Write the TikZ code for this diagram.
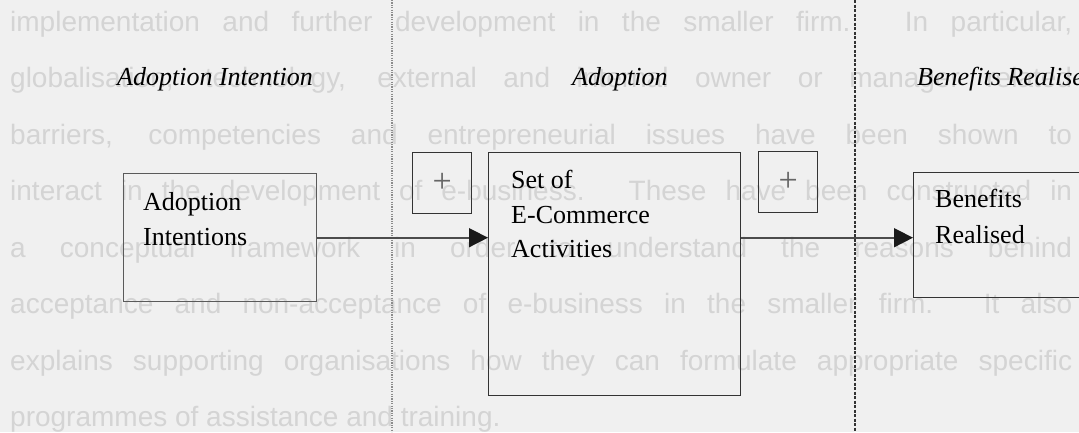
\documentclass[tikz,border=0pt]{standalone}
\usepackage{fontspec}
\setmainfont{Liberation Serif}
\newfontfamily\bgsans{Liberation Sans}
\usetikzlibrary{arrows.meta}
\definecolor{paper}{HTML}{F0F0F0}
\definecolor{ghost}{HTML}{D4D4D4}
\definecolor{ink}{HTML}{333333}
\definecolor{softink}{HTML}{5A5A5A}
\begin{document}
\begin{tikzpicture}[x=1pt,y=-1pt,
  ghostline/.style={anchor=base west, inner sep=0pt, text=ghost,
    font=\bgsans\fontsize{28}{28}\selectfont},
  stage/.style={anchor=base west, inner sep=0pt,
    font=\itshape\fontsize{26}{26}\selectfont},
  box/.style={draw=ink, line width=1.4pt, anchor=north west, inner sep=0pt},
  boxline/.style={anchor=base west, inner sep=0pt, font=\fontsize{26}{26}\selectfont},
  plusbox/.style={draw=ink, line width=1.3pt, minimum width=59pt, minimum height=61pt,
    anchor=north west, inner sep=0pt, text=black!60, font=\fontsize{34}{34}\selectfont},
  conn/.style={draw=black!70, line width=1.6pt, -{Triangle[length=19pt,width=19pt,color=black!90]}},
]
\useasboundingbox (0,0) rectangle (1079,432);
\clip (0,0) rectangle (1079,432);
\fill[paper] (0,0) rectangle (1079,432);

% faint paragraph printed behind the figure
\node[ghostline] (g1) at (10,31) {\makebox[1062pt][s]{implementation and further development in the smaller firm. In particular,}};
\node[ghostline] (g2) at (10,87.5) {\makebox[1062pt][s]{globalisation, technology, external and internal owner or manager related}};
\node[ghostline] (g3) at (10,144) {\makebox[1062pt][s]{barriers, competencies and entrepreneurial issues have been shown to}};
\node[ghostline] (g4) at (10,200.5) {\makebox[1062pt][s]{interact in the development of e-business. These have been constructed in}};
\node[ghostline] (g5) at (10,257) {\makebox[1062pt][s]{a conceptual framework in order to understand the reasons behind}};
\node[ghostline] (g6) at (10,313.5) {\makebox[1062pt][s]{acceptance and non-acceptance of e-business in the smaller firm. It also}};
\node[ghostline] (g7) at (10,370) {\makebox[1062pt][s]{explains supporting organisations how they can formulate appropriate specific}};
\node[ghostline] (g8) at (10,426.5) {programmes of assistance and training.};

% stage dividers
\draw[draw=black!45, line width=2.4pt, dash pattern=on 1.2pt off 1.2pt] (392,0) -- (392,432);
\draw[draw=black!80, line width=1.2pt, dash pattern=on 3pt off 1.5pt] (855,0) -- (855,432);

% stage headings
\node[stage] (h1) at (117,85) {Adoption Intention};
\node[stage] (h2) at (572,85) {Adoption};
\node[stage] (h3) at (917,85) {Benefits Realised};

% boxes
\node[box, draw=softink, minimum width=193pt, minimum height=128pt] (A) at (123,173) {};
\node[box, minimum width=252pt, minimum height=243pt] (B) at (488,152) {};
\node[box, minimum width=200pt, minimum height=125pt] (C) at (913,172) {};

\node[boxline] (a1) at (143,210) {Adoption};
\node[boxline] (a2) at (143,245) {Intentions};
\node[boxline] (b1) at (511,188) {Set of};
\node[boxline] (b2) at (511,223) {E-Commerce};
\node[boxline] (b3) at (511,257) {Activities};
\node[boxline] (c1) at (935,207) {Benefits};
\node[boxline] (c2) at (935,243) {Realised};

% positive-influence markers
\node[plusbox] (p1) at (412,152) {+};
\node[plusbox] (p2) at (758,151) {+};

% connectors
\draw[conn] (A.east) -- (A.east -| B.west);
\draw[conn] (B.east |- A.east) -- (C.west |- A.east);
\end{tikzpicture}
\end{document}
